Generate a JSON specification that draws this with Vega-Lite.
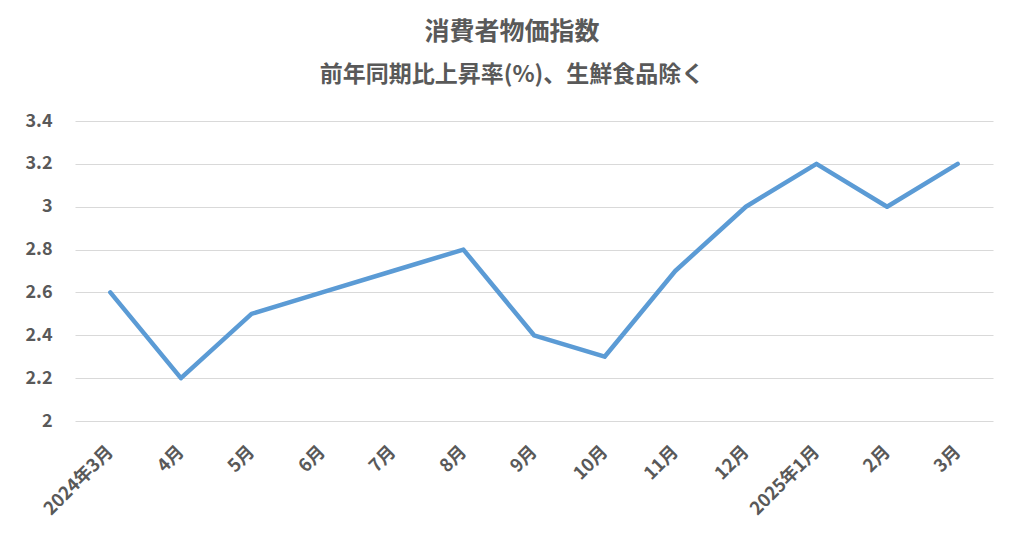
{
  "$schema": "https://vega.github.io/schema/vega-lite/v6.json",
  "autosize": "none",
  "width": 918,
  "height": 300,
  "padding": {"left": 75, "top": 121, "right": 31, "bottom": 117},
  "background": "white",
  "title": {
    "text": "消費者物価指数",
    "subtitle": "前年同期比上昇率(%)、生鮮食品除く",
    "anchor": "middle",
    "dx": -22,
    "offset": 25,
    "font": "Noto Sans CJK JP",
    "fontSize": 25,
    "fontWeight": "bold",
    "color": "#595959",
    "subtitleFont": "Noto Sans CJK JP",
    "subtitleFontSize": 23,
    "subtitleFontWeight": "bold",
    "subtitleColor": "#595959",
    "subtitlePadding": 19
  },
  "data": {
    "values": [
      {"date": "2024-03-01", "value": 2.6},
      {"date": "2024-04-01", "value": 2.2},
      {"date": "2024-05-01", "value": 2.5},
      {"date": "2024-06-01", "value": 2.6},
      {"date": "2024-07-01", "value": 2.7},
      {"date": "2024-08-01", "value": 2.8},
      {"date": "2024-09-01", "value": 2.4},
      {"date": "2024-10-01", "value": 2.3},
      {"date": "2024-11-01", "value": 2.7},
      {"date": "2024-12-01", "value": 3.0},
      {"date": "2025-01-01", "value": 3.2},
      {"date": "2025-02-01", "value": 3.0},
      {"date": "2025-03-01", "value": 3.2}
    ]
  },
  "mark": {"type": "line", "color": "#5B9BD5", "strokeWidth": 4.5, "strokeCap": "round", "strokeJoin": "round"},
  "encoding": {
    "x": {
      "field": "date",
      "timeUnit": "utcyearmonth",
      "type": "ordinal",
      "title": null,
      "axis": {
        "labelExpr": "(datum.index == 0 || utcFormat(datum.value, '%m') == '01') ? utcFormat(datum.value, '%Y年%-m月') : utcFormat(datum.value, '%-m月')",
        "labelAngle": -45,
        "labelAlign": "right",
        "labelBaseline": "middle",
        "labelPadding": 28,
        "labelOverlap": false,
        "ticks": false,
        "domain": false,
        "grid": false,
        "labelFont": "Noto Sans CJK JP",
        "labelFontSize": 18,
        "labelFontWeight": "bold",
        "labelColor": "#595959"
      }
    },
    "y": {
      "field": "value",
      "type": "quantitative",
      "title": null,
      "scale": {"domain": [2, 3.4], "nice": false, "zero": false},
      "axis": {
        "values": [2, 2.2, 2.4, 2.6, 2.8, 3, 3.2, 3.4],
        "labelExpr": "format(datum.value, '.1~f')",
        "ticks": false,
        "domain": false,
        "gridColor": "#d9d9d9",
        "gridWidth": 1,
        "labelPadding": 23,
        "labelFont": "Noto Sans CJK JP",
        "labelFontSize": 18,
        "labelFontWeight": "bold",
        "labelColor": "#595959"
      }
    }
  },
  "config": {"view": {"stroke": null}}
}
